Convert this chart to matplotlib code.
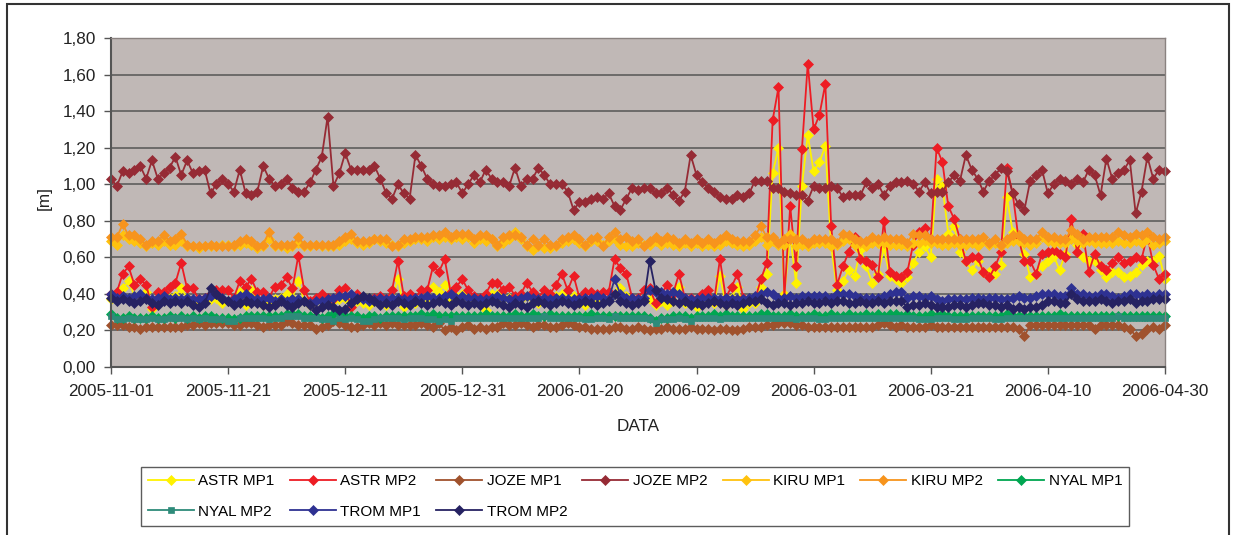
import numpy as np
import matplotlib
matplotlib.use("Agg")
import matplotlib.pyplot as plt
import matplotlib.dates as mdates
from matplotlib.ticker import FuncFormatter
from matplotlib.patches import Rectangle

plt.rcParams['font.family'] = ['Liberation Sans', 'DejaVu Sans']

# daily values 2005-11-01 .. 2006-04-30 (181 days)
dates = np.arange('2005-11-01', '2006-05-01', dtype='datetime64[D]')

astr_mp1 = [
    0.37, 0.38, 0.43, 0.47, 0.39, 0.39, 0.41, 0.32, 0.36, 0.37,
    0.38, 0.39, 0.43, 0.38, 0.36, 0.35, 0.36, 0.37, 0.38, 0.35,
    0.36, 0.36, 0.41, 0.34, 0.42, 0.37, 0.34, 0.36, 0.37, 0.38,
    0.40, 0.38, 0.47, 0.36, 0.34, 0.36, 0.36, 0.35, 0.36, 0.37,
    0.38, 0.33, 0.36, 0.35, 0.34, 0.36, 0.36, 0.34, 0.37, 0.48,
    0.33, 0.35, 0.35, 0.37, 0.38, 0.44, 0.41, 0.45, 0.37, 0.39,
    0.40, 0.38, 0.36, 0.37, 0.31, 0.40, 0.40, 0.37, 0.38, 0.36,
    0.37, 0.39, 0.37, 0.35, 0.37, 0.36, 0.39, 0.40, 0.37, 0.39,
    0.35, 0.34, 0.36, 0.35, 0.36, 0.37, 0.48, 0.43, 0.39, 0.36,
    0.36, 0.38, 0.37, 0.34, 0.36, 0.34, 0.36, 0.44, 0.35, 0.35,
    0.33, 0.36, 0.37, 0.35, 0.50, 0.34, 0.38, 0.44, 0.32, 0.35,
    0.35, 0.44, 0.51, 1.06, 1.20, 0.40, 0.72, 0.46, 0.99, 1.27,
    1.07, 1.12, 1.21, 0.66, 0.42, 0.47, 0.53, 0.50, 0.64, 0.55,
    0.46, 0.51, 0.65, 0.50, 0.48, 0.46, 0.49, 0.57, 0.63, 0.66,
    0.60, 1.03, 0.99, 0.73, 0.77, 0.63, 0.58, 0.53, 0.58, 0.52,
    0.52, 0.51, 0.56, 0.93, 0.74, 0.69, 0.62, 0.49, 0.51, 0.55,
    0.58, 0.61, 0.53, 0.62, 0.71, 0.67, 0.60, 0.58, 0.58, 0.53,
    0.49, 0.52, 0.52, 0.49, 0.50, 0.52, 0.56, 0.58, 0.58, 0.61,
    0.48]

astr_mp2 = [
    0.40, 0.41, 0.51, 0.55, 0.45, 0.48, 0.45, 0.33, 0.41, 0.41,
    0.44, 0.46, 0.57, 0.43, 0.43, 0.37, 0.38, 0.40, 0.42, 0.42,
    0.42, 0.38, 0.47, 0.44, 0.48, 0.41, 0.41, 0.38, 0.44, 0.45,
    0.49, 0.43, 0.61, 0.42, 0.36, 0.38, 0.40, 0.38, 0.37, 0.42,
    0.43, 0.33, 0.40, 0.38, 0.37, 0.38, 0.39, 0.37, 0.42, 0.58,
    0.39, 0.40, 0.38, 0.42, 0.42, 0.55, 0.52, 0.59, 0.41, 0.44,
    0.48, 0.42, 0.39, 0.38, 0.40, 0.46, 0.46, 0.42, 0.44, 0.39,
    0.40, 0.46, 0.41, 0.38, 0.42, 0.40, 0.45, 0.51, 0.42, 0.50,
    0.38, 0.41, 0.41, 0.40, 0.41, 0.41, 0.59, 0.54, 0.51, 0.38,
    0.38, 0.42, 0.43, 0.35, 0.40, 0.45, 0.40, 0.51, 0.38, 0.38,
    0.37, 0.40, 0.42, 0.36, 0.59, 0.38, 0.44, 0.51, 0.38, 0.37,
    0.37, 0.48, 0.57, 1.35, 1.53, 0.38, 0.88, 0.55, 1.19, 1.66,
    1.30, 1.38, 1.55, 0.77, 0.45, 0.55, 0.63, 0.71, 0.59, 0.58,
    0.56, 0.49, 0.80, 0.52, 0.50, 0.49, 0.52, 0.67, 0.74, 0.76,
    0.70, 1.20, 1.12, 0.88, 0.81, 0.70, 0.58, 0.60, 0.60, 0.52,
    0.49, 0.55, 0.63, 1.09, 0.95, 0.70, 0.58, 0.58, 0.51, 0.62,
    0.63, 0.64, 0.62, 0.60, 0.81, 0.63, 0.73, 0.52, 0.62, 0.55,
    0.53, 0.57, 0.60, 0.57, 0.58, 0.60, 0.59, 0.72, 0.56, 0.48,
    0.51]

joze_mp1 = [
    0.23, 0.23, 0.23, 0.22, 0.22, 0.21, 0.22, 0.22, 0.22, 0.22,
    0.22, 0.22, 0.22, 0.23, 0.23, 0.24, 0.23, 0.24, 0.24, 0.24,
    0.24, 0.23, 0.23, 0.24, 0.24, 0.23, 0.22, 0.23, 0.23, 0.23,
    0.25, 0.24, 0.23, 0.23, 0.23, 0.21, 0.22, 0.23, 0.25, 0.24,
    0.23, 0.22, 0.22, 0.23, 0.24, 0.23, 0.24, 0.23, 0.24, 0.23,
    0.23, 0.23, 0.23, 0.24, 0.23, 0.22, 0.24, 0.20, 0.22, 0.20,
    0.22, 0.23, 0.21, 0.22, 0.21, 0.22, 0.22, 0.24, 0.23, 0.23,
    0.24, 0.23, 0.22, 0.23, 0.23, 0.22, 0.22, 0.23, 0.24, 0.23,
    0.22, 0.22, 0.21, 0.21, 0.21, 0.21, 0.22, 0.22, 0.21, 0.21,
    0.22, 0.21, 0.20, 0.21, 0.21, 0.22, 0.21, 0.21, 0.21, 0.22,
    0.21, 0.21, 0.21, 0.20, 0.21, 0.21, 0.20, 0.20, 0.21, 0.22,
    0.22, 0.22, 0.23, 0.23, 0.24, 0.24, 0.24, 0.23, 0.23, 0.22,
    0.22, 0.22, 0.22, 0.22, 0.22, 0.22, 0.22, 0.22, 0.22, 0.22,
    0.22, 0.23, 0.24, 0.23, 0.22, 0.23, 0.22, 0.22, 0.22, 0.22,
    0.23, 0.22, 0.22, 0.22, 0.22, 0.22, 0.22, 0.22, 0.22, 0.22,
    0.22, 0.22, 0.22, 0.22, 0.22, 0.21, 0.17, 0.23, 0.23, 0.23,
    0.23, 0.23, 0.23, 0.23, 0.23, 0.23, 0.23, 0.23, 0.21, 0.23,
    0.23, 0.23, 0.23, 0.22, 0.21, 0.17, 0.18, 0.21, 0.22, 0.21,
    0.23]

joze_mp2 = [
    1.03, 0.99, 1.07, 1.06, 1.08, 1.10, 1.03, 1.13, 1.03, 1.06,
    1.09, 1.15, 1.05, 1.13, 1.06, 1.07, 1.08, 0.95, 1.00, 1.03,
    1.00, 0.96, 1.08, 0.95, 0.94, 0.96, 1.10, 1.03, 0.99, 1.00,
    1.03, 0.98, 0.96, 0.96, 1.01, 1.08, 1.15, 1.37, 0.99, 1.06,
    1.17, 1.08, 1.08, 1.08, 1.08, 1.10, 1.03, 0.95, 0.92, 1.00,
    0.95, 0.92, 1.16, 1.10, 1.03, 1.00, 0.99, 0.99, 1.00, 1.01,
    0.95, 1.00, 1.05, 1.01, 1.08, 1.03, 1.01, 1.01, 0.99, 1.09,
    0.99, 1.03, 1.03, 1.09, 1.05, 1.00, 1.00, 1.00, 0.96, 0.86,
    0.90, 0.90, 0.92, 0.93, 0.92, 0.95, 0.88, 0.86, 0.92, 0.98,
    0.97, 0.98, 0.98, 0.95, 0.95, 0.98, 0.94, 0.91, 0.96, 1.16,
    1.05, 1.01, 0.98, 0.96, 0.93, 0.92, 0.92, 0.94, 0.93, 0.95,
    1.02, 1.02, 1.02, 0.98, 0.98, 0.96, 0.95, 0.94, 0.94, 0.91,
    0.99, 0.98, 0.98, 0.99, 0.98, 0.93, 0.94, 0.94, 0.94, 1.01,
    0.98, 1.00, 0.94, 0.99, 1.01, 1.01, 1.02, 1.00, 0.96, 1.01,
    0.95, 0.96, 0.96, 1.01, 1.05, 1.02, 1.16, 1.08, 1.03, 0.96,
    1.02, 1.05, 1.09, 1.07, 0.95, 0.89, 0.86, 1.02, 1.05, 1.08,
    0.95, 1.00, 1.03, 1.02, 1.00, 1.03, 1.01, 1.08, 1.05, 0.94,
    1.14, 1.03, 1.06, 1.08, 1.13, 0.84, 0.96, 1.15, 1.03, 1.08,
    1.07]

kiru_mp1 = [
    0.69, 0.67, 0.72, 0.70, 0.69, 0.68, 0.66, 0.68, 0.67, 0.69,
    0.67, 0.67, 0.69, 0.66, 0.66, 0.65, 0.66, 0.66, 0.66, 0.67,
    0.67, 0.66, 0.67, 0.68, 0.67, 0.65, 0.66, 0.70, 0.66, 0.66,
    0.65, 0.66, 0.68, 0.66, 0.66, 0.67, 0.66, 0.66, 0.66, 0.67,
    0.69, 0.70, 0.68, 0.67, 0.68, 0.70, 0.69, 0.68, 0.67, 0.66,
    0.68, 0.69, 0.70, 0.70, 0.69, 0.71, 0.70, 0.71, 0.70, 0.71,
    0.70, 0.71, 0.68, 0.70, 0.69, 0.70, 0.66, 0.68, 0.70, 0.74,
    0.70, 0.66, 0.64, 0.66, 0.65, 0.65, 0.66, 0.68, 0.69, 0.70,
    0.68, 0.66, 0.69, 0.69, 0.67, 0.69, 0.70, 0.67, 0.66, 0.66,
    0.68, 0.67, 0.67, 0.69, 0.67, 0.68, 0.67, 0.66, 0.68, 0.66,
    0.68, 0.66, 0.67, 0.66, 0.67, 0.69, 0.68, 0.67, 0.66, 0.67,
    0.69, 0.71, 0.67, 0.69, 0.67, 0.67, 0.73, 0.66, 0.67, 0.66,
    0.68, 0.68, 0.68, 0.66, 0.67, 0.69, 0.70, 0.67, 0.68, 0.66,
    0.68, 0.68, 0.68, 0.67, 0.67, 0.67, 0.66, 0.68, 0.68, 0.69,
    0.68, 0.68, 0.67, 0.67, 0.68, 0.67, 0.67, 0.68, 0.66, 0.69,
    0.67, 0.68, 0.66, 0.68, 0.69, 0.69, 0.68, 0.67, 0.68, 0.71,
    0.69, 0.68, 0.68, 0.68, 0.70, 0.69, 0.68, 0.69, 0.68, 0.68,
    0.68, 0.68, 0.69, 0.68, 0.68, 0.69, 0.68, 0.70, 0.67, 0.68,
    0.69]

kiru_mp2 = [
    0.71, 0.71, 0.78, 0.72, 0.72, 0.70, 0.67, 0.69, 0.69, 0.72,
    0.69, 0.70, 0.73, 0.67, 0.66, 0.66, 0.66, 0.67, 0.66, 0.66,
    0.66, 0.67, 0.69, 0.70, 0.69, 0.66, 0.67, 0.74, 0.67, 0.67,
    0.67, 0.67, 0.71, 0.67, 0.67, 0.67, 0.67, 0.67, 0.67, 0.69,
    0.71, 0.73, 0.69, 0.69, 0.69, 0.70, 0.70, 0.70, 0.66, 0.67,
    0.70, 0.70, 0.71, 0.71, 0.71, 0.72, 0.72, 0.74, 0.71, 0.73,
    0.73, 0.73, 0.70, 0.72, 0.72, 0.70, 0.67, 0.71, 0.72, 0.72,
    0.71, 0.67, 0.70, 0.67, 0.70, 0.67, 0.67, 0.70, 0.71, 0.72,
    0.70, 0.67, 0.70, 0.71, 0.66, 0.71, 0.74, 0.70, 0.71, 0.69,
    0.70, 0.66, 0.69, 0.71, 0.69, 0.71, 0.70, 0.68, 0.70, 0.68,
    0.70, 0.68, 0.70, 0.68, 0.70, 0.72, 0.70, 0.69, 0.69, 0.69,
    0.72, 0.77, 0.71, 0.71, 0.68, 0.70, 0.70, 0.70, 0.70, 0.68,
    0.70, 0.70, 0.70, 0.70, 0.68, 0.73, 0.72, 0.70, 0.69, 0.69,
    0.71, 0.70, 0.71, 0.70, 0.70, 0.70, 0.68, 0.73, 0.72, 0.72,
    0.70, 0.70, 0.70, 0.70, 0.70, 0.70, 0.70, 0.70, 0.70, 0.71,
    0.68, 0.70, 0.67, 0.70, 0.72, 0.72, 0.70, 0.70, 0.70, 0.74,
    0.71, 0.71, 0.70, 0.70, 0.75, 0.73, 0.70, 0.71, 0.71, 0.71,
    0.71, 0.71, 0.74, 0.72, 0.71, 0.73, 0.72, 0.74, 0.71, 0.70,
    0.71]

nyal_mp1 = [
    0.29, 0.27, 0.27, 0.28, 0.27, 0.27, 0.27, 0.28, 0.27, 0.27,
    0.28, 0.27, 0.28, 0.27, 0.28, 0.27, 0.28, 0.28, 0.27, 0.27,
    0.27, 0.26, 0.27, 0.28, 0.28, 0.28, 0.28, 0.28, 0.28, 0.28,
    0.29, 0.29, 0.29, 0.28, 0.28, 0.28, 0.27, 0.28, 0.29, 0.29,
    0.28, 0.28, 0.28, 0.27, 0.28, 0.28, 0.27, 0.28, 0.28, 0.28,
    0.28, 0.28, 0.28, 0.29, 0.28, 0.29, 0.28, 0.28, 0.28, 0.28,
    0.28, 0.28, 0.28, 0.28, 0.29, 0.28, 0.28, 0.28, 0.28, 0.29,
    0.28, 0.28, 0.29, 0.28, 0.28, 0.29, 0.28, 0.28, 0.28, 0.28,
    0.28, 0.28, 0.29, 0.28, 0.28, 0.28, 0.28, 0.28, 0.28, 0.28,
    0.28, 0.28, 0.27, 0.25, 0.27, 0.27, 0.28, 0.28, 0.28, 0.27,
    0.28, 0.28, 0.28, 0.29, 0.28, 0.29, 0.28, 0.28, 0.28, 0.28,
    0.28, 0.29, 0.29, 0.28, 0.28, 0.28, 0.29, 0.28, 0.28, 0.28,
    0.29, 0.28, 0.28, 0.29, 0.28, 0.28, 0.29, 0.28, 0.28, 0.29,
    0.28, 0.29, 0.28, 0.29, 0.29, 0.28, 0.29, 0.28, 0.28, 0.28,
    0.29, 0.28, 0.29, 0.28, 0.28, 0.28, 0.28, 0.28, 0.28, 0.28,
    0.28, 0.28, 0.28, 0.29, 0.28, 0.28, 0.28, 0.28, 0.28, 0.28,
    0.28, 0.28, 0.29, 0.28, 0.28, 0.28, 0.28, 0.28, 0.28, 0.28,
    0.28, 0.28, 0.28, 0.28, 0.28, 0.28, 0.28, 0.28, 0.28, 0.28,
    0.28]

nyal_mp2 = [
    0.28, 0.26, 0.26, 0.27, 0.26, 0.26, 0.26, 0.27, 0.26, 0.26,
    0.27, 0.27, 0.27, 0.26, 0.27, 0.26, 0.27, 0.26, 0.26, 0.26,
    0.25, 0.25, 0.27, 0.27, 0.27, 0.27, 0.27, 0.26, 0.27, 0.27,
    0.28, 0.28, 0.28, 0.27, 0.27, 0.27, 0.26, 0.26, 0.25, 0.27,
    0.26, 0.27, 0.26, 0.25, 0.25, 0.26, 0.27, 0.27, 0.27, 0.27,
    0.26, 0.27, 0.27, 0.27, 0.26, 0.26, 0.25, 0.26, 0.25, 0.27,
    0.27, 0.27, 0.27, 0.27, 0.27, 0.27, 0.27, 0.27, 0.27, 0.27,
    0.27, 0.27, 0.27, 0.27, 0.28, 0.27, 0.27, 0.27, 0.27, 0.27,
    0.27, 0.26, 0.26, 0.27, 0.27, 0.26, 0.28, 0.27, 0.27, 0.27,
    0.27, 0.27, 0.26, 0.24, 0.26, 0.26, 0.26, 0.27, 0.26, 0.25,
    0.27, 0.27, 0.27, 0.27, 0.26, 0.27, 0.27, 0.27, 0.27, 0.27,
    0.27, 0.27, 0.27, 0.27, 0.27, 0.27, 0.27, 0.26, 0.27, 0.27,
    0.27, 0.26, 0.26, 0.27, 0.27, 0.27, 0.27, 0.27, 0.27, 0.27,
    0.27, 0.27, 0.27, 0.27, 0.27, 0.27, 0.27, 0.27, 0.26, 0.26,
    0.26, 0.27, 0.27, 0.27, 0.26, 0.26, 0.26, 0.27, 0.27, 0.27,
    0.27, 0.26, 0.26, 0.27, 0.27, 0.27, 0.27, 0.27, 0.27, 0.27,
    0.27, 0.27, 0.27, 0.27, 0.27, 0.27, 0.27, 0.27, 0.27, 0.27,
    0.27, 0.27, 0.28, 0.27, 0.27, 0.27, 0.27, 0.27, 0.27, 0.27,
    0.27]

trom_mp1 = [
    0.40, 0.38, 0.39, 0.38, 0.39, 0.40, 0.38, 0.37, 0.38, 0.39,
    0.37, 0.38, 0.37, 0.38, 0.37, 0.37, 0.38, 0.39, 0.40, 0.38,
    0.36, 0.37, 0.39, 0.40, 0.38, 0.37, 0.37, 0.38, 0.36, 0.37,
    0.36, 0.37, 0.37, 0.36, 0.35, 0.36, 0.36, 0.37, 0.38, 0.39,
    0.39, 0.40, 0.38, 0.37, 0.36, 0.37, 0.38, 0.37, 0.38, 0.38,
    0.37, 0.37, 0.38, 0.38, 0.39, 0.38, 0.38, 0.39, 0.40, 0.38,
    0.39, 0.38, 0.38, 0.37, 0.37, 0.38, 0.39, 0.38, 0.37, 0.37,
    0.38, 0.39, 0.38, 0.37, 0.38, 0.37, 0.38, 0.38, 0.37, 0.37,
    0.37, 0.38, 0.38, 0.39, 0.38, 0.37, 0.48, 0.40, 0.38, 0.38,
    0.37, 0.38, 0.42, 0.41, 0.41, 0.40, 0.41, 0.40, 0.38, 0.37,
    0.37, 0.38, 0.38, 0.38, 0.37, 0.38, 0.37, 0.37, 0.37, 0.38,
    0.39, 0.40, 0.41, 0.40, 0.38, 0.38, 0.39, 0.38, 0.39, 0.39,
    0.39, 0.39, 0.39, 0.38, 0.40, 0.40, 0.40, 0.39, 0.38, 0.38,
    0.38, 0.38, 0.39, 0.40, 0.41, 0.41, 0.38, 0.39, 0.39, 0.38,
    0.39, 0.37, 0.36, 0.37, 0.37, 0.37, 0.37, 0.38, 0.38, 0.37,
    0.38, 0.38, 0.37, 0.37, 0.38, 0.39, 0.38, 0.38, 0.39, 0.40,
    0.40, 0.40, 0.39, 0.39, 0.43, 0.40, 0.40, 0.39, 0.39, 0.40,
    0.40, 0.39, 0.38, 0.39, 0.40, 0.40, 0.39, 0.40, 0.39, 0.40,
    0.40]

trom_mp2 = [
    0.38, 0.36, 0.37, 0.36, 0.35, 0.36, 0.37, 0.35, 0.34, 0.36,
    0.35, 0.36, 0.35, 0.36, 0.34, 0.33, 0.35, 0.43, 0.40, 0.37,
    0.36, 0.34, 0.35, 0.36, 0.35, 0.35, 0.34, 0.33, 0.34, 0.36,
    0.34, 0.33, 0.35, 0.36, 0.34, 0.31, 0.33, 0.34, 0.33, 0.31,
    0.32, 0.35, 0.37, 0.39, 0.38, 0.36, 0.34, 0.35, 0.34, 0.36,
    0.35, 0.34, 0.36, 0.35, 0.34, 0.35, 0.36, 0.35, 0.34, 0.36,
    0.35, 0.34, 0.35, 0.34, 0.35, 0.36, 0.35, 0.34, 0.33, 0.35,
    0.34, 0.33, 0.35, 0.36, 0.35, 0.34, 0.35, 0.36, 0.35, 0.34,
    0.35, 0.36, 0.35, 0.34, 0.35, 0.36, 0.40, 0.36, 0.35, 0.34,
    0.35, 0.36, 0.58, 0.42, 0.38, 0.37, 0.36, 0.35, 0.36, 0.34,
    0.35, 0.34, 0.35, 0.36, 0.35, 0.34, 0.35, 0.34, 0.35, 0.36,
    0.36, 0.37, 0.35, 0.34, 0.35, 0.35, 0.34, 0.35, 0.35, 0.36,
    0.35, 0.35, 0.36, 0.35, 0.36, 0.36, 0.35, 0.35, 0.36, 0.35,
    0.35, 0.36, 0.35, 0.36, 0.36, 0.36, 0.33, 0.34, 0.34, 0.35,
    0.34, 0.33, 0.33, 0.33, 0.34, 0.34, 0.33, 0.34, 0.35, 0.35,
    0.34, 0.34, 0.33, 0.34, 0.32, 0.33, 0.32, 0.33, 0.33, 0.34,
    0.36, 0.36, 0.35, 0.35, 0.40, 0.37, 0.36, 0.36, 0.36, 0.37,
    0.36, 0.35, 0.36, 0.36, 0.37, 0.35, 0.36, 0.36, 0.37, 0.37,
    0.37]

names = ["ASTR MP1", "ASTR MP2", "JOZE MP1", "JOZE MP2", "KIRU MP1",
         "KIRU MP2", "NYAL MP1", "NYAL MP2", "TROM MP1", "TROM MP2"]
values = [astr_mp1, astr_mp2, joze_mp1, joze_mp2, kiru_mp1,
          kiru_mp2, nyal_mp1, nyal_mp2, trom_mp1, trom_mp2]
colors = ['#FFF200', '#ED1C24', '#A0522D', '#962B35', '#FFC20E',
          '#F7941D', '#00A651', '#2E8B7A', '#2E3192', '#262262']
markers = ['D', 'D', 'D', 'D', 'D', 'D', 'D', 's', 'D', 'D']

fig = plt.figure(figsize=(12.33, 5.35), dpi=100)
ax = fig.add_axes([0.0900, 0.3140, 0.8548, 0.6150])
ax.set_facecolor('#C0B8B6')

handles = []
for name, vals, col, mk in zip(names, values, colors, markers):
    ms = 4.0 if mk == 's' else 4.6
    h, = ax.plot(dates, vals, color=col, lw=1.3, marker=mk, ms=ms,
                 mec=col, mew=0.5, label=name, clip_on=False)
    handles.append(h)

ax.set_ylim(0, 1.8)
ax.set_yticks(np.arange(0, 1.81, 0.2))
ax.yaxis.set_major_formatter(FuncFormatter(lambda v, p: f"{v:.2f}".replace('.', ',')))
ax.set_xlim(dates[0], dates[-1])
ax.set_xticks(dates[::20])
ax.xaxis.set_major_formatter(mdates.DateFormatter('%Y-%m-%d'))
ax.grid(axis='y', color='#555555', lw=1.1)
ax.set_axisbelow(True)

for s in ['left', 'bottom']:
    ax.spines[s].set_color('#555555')
    ax.spines[s].set_linewidth(1.5)
for s in ['top', 'right']:
    ax.spines[s].set_color('#8A8280')
    ax.spines[s].set_linewidth(1.0)

ax.tick_params(direction='out', length=5, width=1, color='#555555',
               labelsize=12.3, labelcolor='#222222')
ax.tick_params(axis='y', pad=6)
ax.tick_params(axis='x', pad=7)

ax.set_xlabel('DATA', fontsize=12.3, color='#222222')
ax.xaxis.set_label_coords(0.5, -0.158)
ax.set_ylabel('[m]', fontsize=12.3, color='#222222')
ax.yaxis.set_label_coords(-0.056, 0.514)

# legend filled row by row: 7 on the first row, 3 on the second
order = [0, 7, 1, 8, 2, 9, 3, 4, 5, 6]
leg = fig.legend([handles[i] for i in order], [names[i] for i in order],
                 ncol=7, loc='upper left', bbox_to_anchor=(141 / 1233, 1 - 467 / 535),
                 frameon=True, fancybox=False, edgecolor='#333333', fontsize=11,
                 handlelength=3.0, handletextpad=0.3, columnspacing=1.0,
                 borderpad=0.45, labelspacing=1.1, borderaxespad=0.0)
leg.get_frame().set_linewidth(1.0)

# outer chart border
fig.patches.append(Rectangle((7 / 1233, -0.02), (1229 - 7) / 1233, 1.0125,
                             transform=fig.transFigure, fill=False,
                             edgecolor='#333333', lw=1.5))

fig.savefig('out.png', dpi=100, facecolor='white')
